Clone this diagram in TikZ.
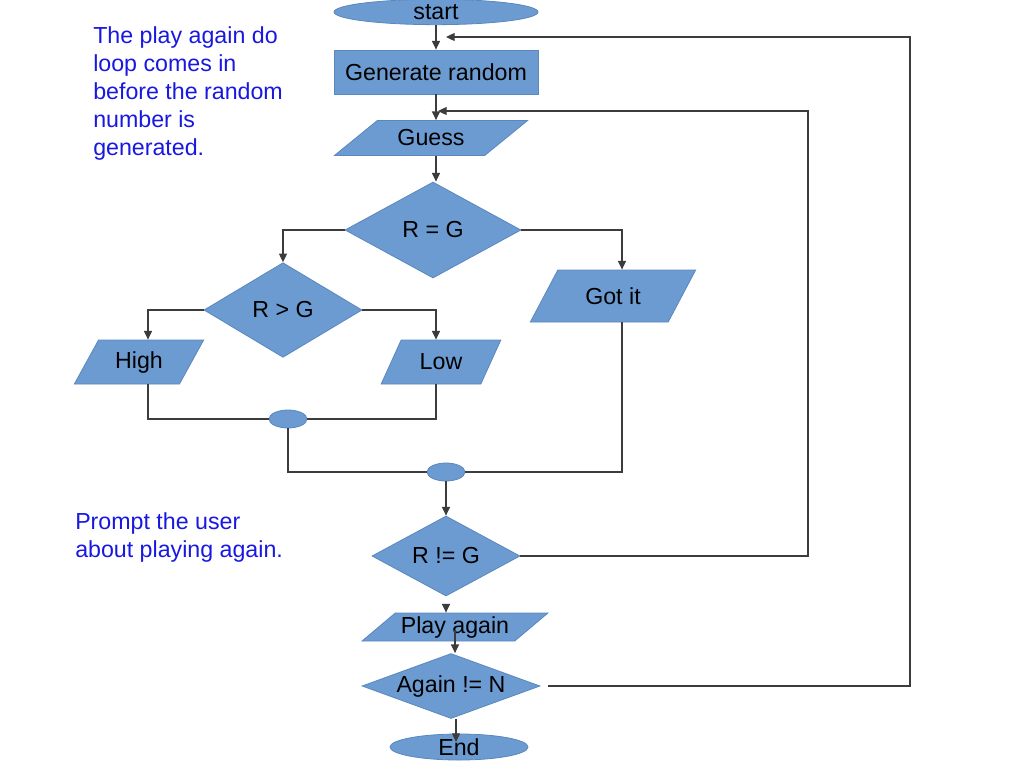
\documentclass[tikz,border=0pt]{standalone}
\usepackage{fontspec}
\setmainfont{Liberation Sans}
\usetikzlibrary{arrows.meta, shapes.geometric, positioning}
\definecolor{fcFill}{HTML}{6C9BD2}
\definecolor{fcEdge}{HTML}{5A87BE}
\definecolor{fcLine}{HTML}{3C3C3C}
\definecolor{fcNote}{RGB}{24,24,224}
\tikzset{
  txt/.style      = {font=\fontsize{17.4}{21}\selectfont},
  termbox/.style  = {ellipse, fill=fcFill, draw=fcEdge, line width=0.6pt,
                     inner sep=0pt, txt},
  procbox/.style  = {rectangle, fill=fcFill, draw=fcEdge, line width=0.6pt,
                     inner sep=0pt, txt},
  iobox/.style    = {trapezium, trapezium left angle=#1, trapezium right angle=180-#1,
                     trapezium stretches=true, fill=fcFill, draw=fcEdge,
                     line width=0.6pt, inner sep=0pt, txt},
  decbox/.style   = {diamond, fill=fcFill, draw=fcEdge, line width=0.6pt,
                     inner sep=0pt, txt, aspect=#1},
  joint/.style    = {ellipse, fill=fcFill, draw=fcEdge, line width=0.6pt,
                     inner sep=0pt, minimum width=28.5pt, minimum height=13.5pt},
  link/.style     = {fcLine, line width=0.9pt},
  arr/.style      = {link, -{Triangle[length=6.5pt, width=6pt]}},
  note/.style     = {txt, fcNote, align=left, anchor=north west, inner sep=0pt},
}

\begin{document}
\begin{tikzpicture}[x=0.75pt, y=-0.75pt]
  \useasboundingbox (0,0) rectangle (1024,768);
  % main column
  \node[termbox, minimum width=153pt, minimum height=19pt] (start) at (436,12) {start};
  \node[procbox, minimum width=153pt, minimum height=33pt] (gen) at (436,72) {Generate random};
  \node[iobox=31.5, minimum width=145.5pt, minimum height=26.25pt] (guess) at (431,138) {Guess};
  \node[decbox=1.83, minimum width=132pt, minimum height=72pt] (req) at (433,230) {R = G};
  \node[decbox=1.66, minimum width=118.5pt, minimum height=71pt] (rgt) at (283,310) {R > G};
  \node[iobox=51, minimum width=124.5pt, minimum height=39pt] (gotit) at (613,296) {Got it};
  \node[iobox=56.6, minimum width=97.5pt, minimum height=33pt] (high) at (139,362) {High};
  \node[iobox=56.6, minimum width=90pt, minimum height=33pt] (low) at (441,362) {Low};
  \node[joint] (j1) at (288,419) {};
  \node[joint] (j2) at (446,472) {};
  \node[decbox=1.85, minimum width=111pt, minimum height=60pt] (rneg) at (446,556) {R != G};
  \node[iobox=35.7, minimum width=139.5pt, minimum height=21pt] (play) at (455,627) {Play again};
  \node[decbox=2.74, minimum width=133.5pt, minimum height=48.75pt] (again) at (451,686) {Again != N};
  \node[termbox, minimum width=103.5pt, minimum height=19.5pt] (endn) at (459,747) {End};

  % notes
  \node[note] (noteloop) at (93,26) {The play again do\\loop comes in\\before the random\\number is\\generated.};
  \node[note] (noteprompt) at (75,512) {Prompt the user\\about playing again.};

  % loose ends of connectors
  \coordinate (loopA) at (446,37);
  \coordinate (loopB) at (438,111);
  \coordinate (againOut) at (548,686);
  \coordinate (rnegOut) at (446,604);
  \coordinate (playOut) at (455,630);
  \coordinate (endIn) at (456,742);

  % flow
  \draw[arr] (start) -- (gen);
  \draw[arr] (gen) -- (gen |- guess.north);
  \draw[arr] (guess.south -| gen.south) -- (gen.south |- req.north);
  \draw[arr] (req.west) -| (rgt.north);
  \draw[arr] (req.east) -| ([xshift=6.75pt]gotit.north);
  \draw[arr] (rgt.west) -| ([xshift=6.75pt]high.north);
  \draw[arr] (rgt.east) -| ([xshift=-3.75pt]low.north);
  \draw[link] ([xshift=6.75pt]high.south) |- (j1.west);
  \draw[link] (j1.east) -| ([xshift=-3.75pt]low.south);
  \draw[link] (j1.south) |- (j2.west);
  \draw[link] ([xshift=6.75pt]gotit.south) |- (j2.east);
  \draw[arr] (j2) -- (rneg);
  \draw[arr] (rneg.east) -- (808,556) |- (loopB);
  \draw[arr] (rnegOut) -- (rnegOut |- play.north);
  \draw[arr] (playOut) -- (playOut |- again.north);
  \draw[arr] (again.south -| endIn) -- (endIn);
  \draw[arr] (againOut) -- (910,686) |- (loopA);
\end{tikzpicture}
\end{document}
